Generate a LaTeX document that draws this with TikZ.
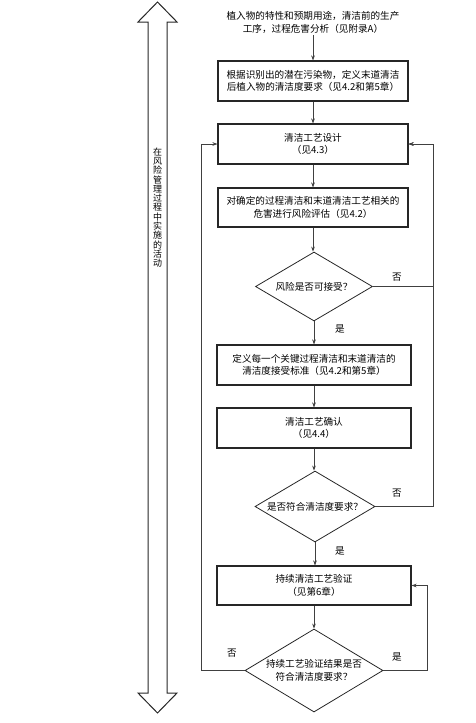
\documentclass[tikz,border=0pt]{standalone}
\usepackage{fontspec}
\newfontfamily\cjk{Noto Sans CJK SC}
\usetikzlibrary{shapes.geometric,arrows.meta}
\begin{document}
\begin{tikzpicture}[x=1pt,y=-1pt,
  txt/.style={font=\cjk\fontsize{9.6}{12.5}\selectfont, align=center, inner sep=0pt},
  procbox/.style={txt, draw=black!85, line width=1.1pt, minimum width=#1, minimum height=40pt},
  decide/.style={txt, draw=black!85, line width=0.8pt, shape=diamond, inner sep=0pt},
  conn/.style={draw=black!75, line width=0.6pt},
  arr/.style={conn, -{Stealth[length=5pt,width=3.6pt]}},
  lbl/.style={font=\cjk\fontsize{9.6}{12}\selectfont, inner sep=0pt}]
\useasboundingbox (0,0) rectangle (475,723);
% left double arrow
\draw[black!85, line width=1pt, line join=miter]
  (157.5,2) -- (177,22) -- (167,22) -- (167,693) -- (177,693) -- (157.5,713)
  -- (138,693) -- (148,693) -- (148,22) -- (138,22) -- cycle;
\node[font=\cjk\fontsize{9}{9.3}\selectfont, align=center, inner sep=0pt] (side) at (157.5,207.5)
  {在\\风\\险\\管\\理\\过\\程\\中\\实\\施\\的\\活\\动};
% flow
\node[txt] (top) at (313,22.5) {植入物的特性和预期用途，清洁前的生产\\工序，过程危害分析（见附录A）};
\node[procbox=190pt] (b1) at (313,81) {根据识别出的潜在污染物，定义末道清洁\\后植入物的清洁度要求（见4.2和第5章）};
\node[procbox=190pt] (b2) at (313,144) {清洁工艺设计\\（见4.3）};
\node[procbox=190pt, minimum height=39pt] (b3) at (313,207.5) {对确定的过程清洁和末道清洁工艺相关的\\危害进行风险评估（见4.2）};
\node[decide, aspect=1.7, minimum width=117pt, minimum height=69pt] (d1) at (314,286.5) {风险是否可接受？};
\node[procbox=194pt] (b4) at (314,365) {定义每一个关键过程清洁和末道清洁的\\清洁度接受标准（见4.2和第5章）};
\node[procbox=194pt] (b5) at (314,428) {清洁工艺确认\\（见4.4）};
\node[decide, aspect=1.69, minimum width=120pt, minimum height=71pt] (d2) at (315,506.5) {是否符合清洁度要求？};
\node[procbox=194pt, minimum height=39pt] (b6) at (314,585.5) {持续清洁工艺验证\\（见第6章）};
\node[decide, aspect=1.66, minimum width=138pt, minimum height=83pt] (d3) at (314,670.5) {持续工艺验证结果是否\\符合清洁度要求？};
% straight arrows
\draw[arr] (top.south |- 0,35) -- (b1.north);
\draw[arr] (b1) -- (b2);
\draw[arr] (b2) -- (b3);
\draw[arr] (b3.south) -- (b3.south |- d1.north);
\draw[arr] (d1.south) -- (d1.south |- b4.north);
\draw[arr] (b4) -- (b5);
\draw[arr] (b5.south) -- (b5.south |- d2.north);
\draw[arr] (d2.south) -- (d2.south |- b6.north);
\draw[arr] (b6.south) -- (b6.south |- d3.north);
% loops
\coordinate (rx) at (433,0);
\draw[arr] (d1.east) -- (d1.east -| rx) |- (b2.east);
\draw[arr] (d2.east) -- (d2.east -| rx) |- (b2.east);
\coordinate (rx2) at (427,0);
\draw[arr] (d3.east) -- (d3.east -| rx2) |- (b6.east);
\coordinate (lx) at (201,0);
\draw[arr] (d3.west) -- (d3.west -| lx) |- (b2.west);
% labels
\node[lbl] (n1) at (397,277) {否};
\node[lbl] (y1) at (340,329) {是};
\node[lbl] (n2) at (397,493) {否};
\node[lbl] (y2) at (340,551) {是};
\node[lbl] (n3) at (232,653) {否};
\node[lbl] (y3) at (397,657) {是};
\end{tikzpicture}
\end{document}
